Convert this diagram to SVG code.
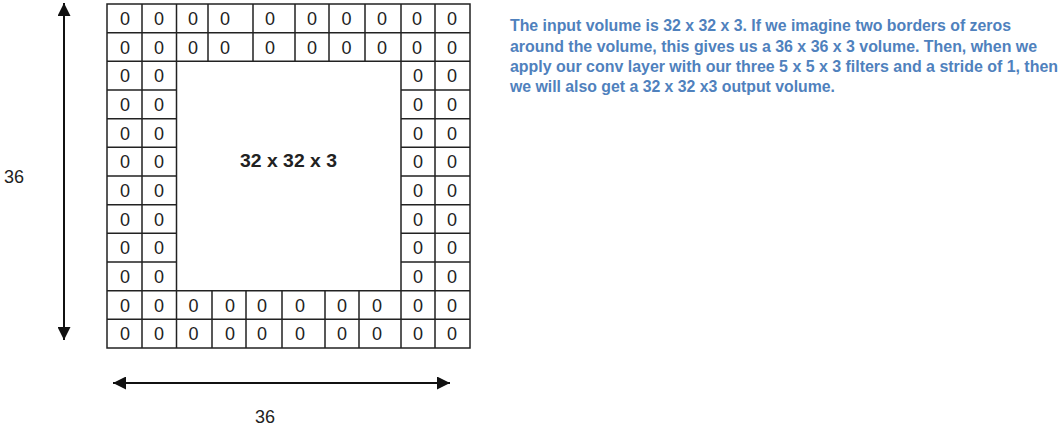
<svg xmlns="http://www.w3.org/2000/svg" width="1061" height="431" viewBox="0 0 1061 431">
<defs>
<marker id="ah" markerUnits="userSpaceOnUse" markerWidth="14" markerHeight="13" refX="13" refY="6.5" orient="auto-start-reverse">
<path d="M0,0 L13,6.5 L0,13 z" fill="#111"/>
</marker>
<style>
.g{stroke:#222;stroke-width:1.5;fill:none}
.z{font-family:"Liberation Sans",Arial,sans-serif;font-size:18px;fill:#222;text-anchor:middle}
.lbl{font-family:"Liberation Sans",Arial,sans-serif;font-size:18px;fill:#222}
.para{font-family:"Liberation Sans",Arial,sans-serif;font-size:16px;font-weight:bold;fill:#4F81BD}
.arr{stroke:#111;stroke-width:2;fill:none}
</style>
</defs>
<rect width="1061" height="431" fill="#fff"/>
<g id="grid">
<rect class="g" x="107" y="4" width="363" height="344"/>
<path class="g" d="M107,32.67H470M107,61.33H470M107,290.67H470M107,319.33H470
M107,90H176.5M107,118.67H176.5M107,147.33H176.5M107,176H176.5M107,204.67H176.5M107,233.33H176.5M107,262H176.5
M401,90H470M401,118.67H470M401,147.33H470M401,176H470M401,204.67H470M401,233.33H470M401,262H470
M142,4V348M176.5,4V348M401,4V348M435,4V348
M208,4V61.33M253,4V61.33M295,4V61.33M329,4V61.33M365,4V61.33
M212,290.67V348M246,290.67V348M282,290.67V348M325,290.67V348M359,290.67V348"/>
</g>
<g id="row-top">
<text class="z" x="125" y="25">0</text><text class="z" x="159" y="25">0</text><text class="z" x="193" y="25">0</text><text class="z" x="225" y="25">0</text><text class="z" x="270" y="25">0</text><text class="z" x="312" y="25">0</text><text class="z" x="346.5" y="25">0</text><text class="z" x="382" y="25">0</text><text class="z" x="417" y="25">0</text><text class="z" x="452" y="25">0</text>
<text class="z" x="125" y="53.67">0</text><text class="z" x="159" y="53.67">0</text><text class="z" x="193" y="53.67">0</text><text class="z" x="225" y="53.67">0</text><text class="z" x="270" y="53.67">0</text><text class="z" x="312" y="53.67">0</text><text class="z" x="346.5" y="53.67">0</text><text class="z" x="382" y="53.67">0</text><text class="z" x="417" y="53.67">0</text><text class="z" x="452" y="53.67">0</text>
</g>
<g id="rows-middle">
<text class="z" x="125" y="82.33">0</text><text class="z" x="159" y="82.33">0</text><text class="z" x="418" y="82.33">0</text><text class="z" x="452" y="82.33">0</text>
<text class="z" x="125" y="111">0</text><text class="z" x="159" y="111">0</text><text class="z" x="418" y="111">0</text><text class="z" x="452" y="111">0</text>
<text class="z" x="125" y="139.67">0</text><text class="z" x="159" y="139.67">0</text><text class="z" x="418" y="139.67">0</text><text class="z" x="452" y="139.67">0</text>
<text class="z" x="125" y="168.33">0</text><text class="z" x="159" y="168.33">0</text><text class="z" x="418" y="168.33">0</text><text class="z" x="452" y="168.33">0</text>
<text class="z" x="125" y="197">0</text><text class="z" x="159" y="197">0</text><text class="z" x="418" y="197">0</text><text class="z" x="452" y="197">0</text>
<text class="z" x="125" y="225.67">0</text><text class="z" x="159" y="225.67">0</text><text class="z" x="418" y="225.67">0</text><text class="z" x="452" y="225.67">0</text>
<text class="z" x="125" y="254.33">0</text><text class="z" x="159" y="254.33">0</text><text class="z" x="418" y="254.33">0</text><text class="z" x="452" y="254.33">0</text>
<text class="z" x="125" y="283">0</text><text class="z" x="159" y="283">0</text><text class="z" x="418" y="283">0</text><text class="z" x="452" y="283">0</text>
</g>
<g id="row-bottom">
<text class="z" x="125" y="311.67">0</text><text class="z" x="159" y="311.67">0</text><text class="z" x="193.5" y="311.67">0</text><text class="z" x="230" y="311.67">0</text><text class="z" x="262" y="311.67">0</text><text class="z" x="300" y="311.67">0</text><text class="z" x="342" y="311.67">0</text><text class="z" x="377" y="311.67">0</text><text class="z" x="418" y="311.67">0</text><text class="z" x="452" y="311.67">0</text>
<text class="z" x="125" y="340.33">0</text><text class="z" x="159" y="340.33">0</text><text class="z" x="193.5" y="340.33">0</text><text class="z" x="230" y="340.33">0</text><text class="z" x="262" y="340.33">0</text><text class="z" x="300" y="340.33">0</text><text class="z" x="342" y="340.33">0</text><text class="z" x="377" y="340.33">0</text><text class="z" x="418" y="340.33">0</text><text class="z" x="452" y="340.33">0</text>
</g>
<g id="volume-label">
<text class="lbl" x="240" y="167" font-weight="bold" textLength="97" lengthAdjust="spacingAndGlyphs">32 x 32 x 3</text>
</g>
<g id="connectors">
<line class="arr" x1="64" y1="3" x2="64" y2="340" marker-start="url(#ah)" marker-end="url(#ah)"/>
<line class="arr" x1="113" y1="383" x2="450" y2="383" marker-start="url(#ah)" marker-end="url(#ah)"/>
</g>
<g id="height-label"><text class="lbl" x="4" y="183">36</text></g>
<g id="width-label"><text class="lbl" x="255" y="423">36</text></g>
<g id="description">
<text class="para" x="510" y="31" textLength="501" lengthAdjust="spacingAndGlyphs">The input volume is 32 x 32 x 3. If we imagine two borders of zeros</text>
<text class="para" x="510" y="51.5" textLength="527" lengthAdjust="spacingAndGlyphs">around the volume, this gives us a 36 x 36 x 3 volume. Then, when we</text>
<text class="para" x="510" y="72" textLength="548" lengthAdjust="spacingAndGlyphs">apply our conv layer with our three 5 x 5 x 3 filters and a stride of 1, then</text>
<text class="para" x="510" y="92" textLength="325" lengthAdjust="spacingAndGlyphs">we will also get a 32 x 32 x3 output volume.</text>
</g>
</svg>
